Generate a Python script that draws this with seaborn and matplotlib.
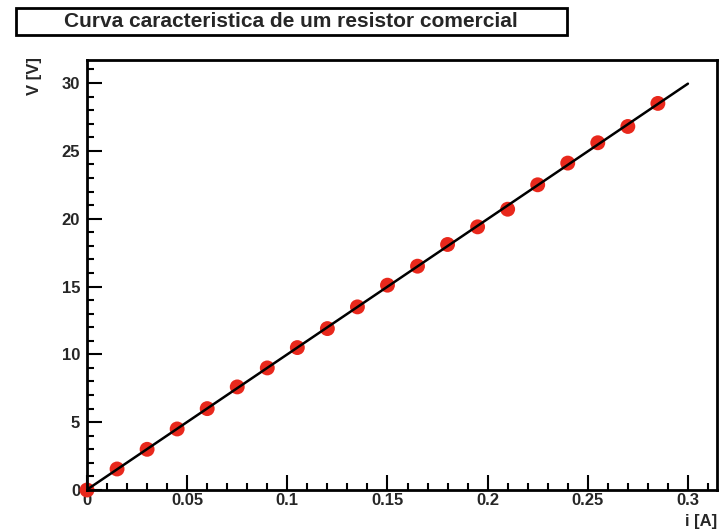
import numpy as np
import pandas as pd
import matplotlib
matplotlib.use("Agg")
import matplotlib.pyplot as plt
from matplotlib.ticker import MultipleLocator
from matplotlib.patches import Rectangle
import seaborn as sns

# Data
corrente = [0.0, 0.015, 0.03, 0.045, 0.06, 0.075, 0.09, 0.105, 0.12, 0.135,
            0.15, 0.165, 0.18, 0.195, 0.21, 0.225, 0.24, 0.255, 0.27, 0.285]
tensao = [0.0, 1.55, 3.0, 4.5, 6.0, 7.6, 9.0, 10.5, 11.9, 13.5,
          15.1, 16.5, 18.1, 19.4, 20.7, 22.5, 24.1, 25.6, 26.8, 28.5]
fit_range = [0.0, 0.3]

titulo = "Curva caracteristica de um resistor comercial"
xlabel = "i [A]"
ylabel = "V [V]"
xticks = [0, 0.05, 0.1, 0.15, 0.2, 0.25, 0.3]
xticklabels = ["0", "0.05", "0.1", "0.15", "0.2", "0.25", "0.3"]

sns.set_style("white")
plt.rcParams["font.family"] = ["Liberation Sans", "DejaVu Sans"]

df = pd.DataFrame({"i": corrente, "V": tensao})

# ajuste linear V = a*i + b
a, b = np.polyfit(corrente, tensao, 1)
fit_i = np.array(fit_range)
fit_df = pd.DataFrame({"i": fit_i, "V": a * fit_i + b})

fig = plt.figure(figsize=(7.27, 5.31), dpi=100)
ax = fig.add_axes([0.1197, 0.0772, 0.8665, 0.8098])

sns.scatterplot(data=df, x="i", y="V", ax=ax, color="#e8281c", s=115,
                edgecolor="none", zorder=2, clip_on=False)
sns.lineplot(data=fit_df, x="i", y="V", ax=ax, color="black", linewidth=1.8,
             zorder=3)

ax.set_xlim(0, 0.3145)
ax.set_ylim(0, 31.7)
ax.xaxis.set_minor_locator(MultipleLocator(0.01))
ax.yaxis.set_major_locator(MultipleLocator(5))
ax.yaxis.set_minor_locator(MultipleLocator(1))
ax.set_xticks(xticks)
ax.set_xticklabels(xticklabels)

ax.tick_params(which="both", direction="in", bottom=True, left=True,
               top=False, right=False, width=1.5, color="black",
               labelsize=12)
ax.tick_params(which="major", length=11)
ax.tick_params(which="minor", length=5)
ax.tick_params(axis="x", which="major", pad=2)
ax.tick_params(axis="y", which="major", pad=5)
for lbl in ax.get_xticklabels() + ax.get_yticklabels():
    lbl.set_fontweight("bold")
for sp in ax.spines.values():
    sp.set_linewidth(2)
    sp.set_color("black")

ax.set_xlabel("")
ax.set_ylabel("")
fig.text(0.986, 0.003, xlabel, ha="right", va="bottom", fontsize=12,
         fontweight="bold")
fig.text(0.047, 0.893, ylabel, ha="center", va="top", rotation=90,
         fontsize=12, fontweight="bold")

# caixa do titulo
fig.patches.append(Rectangle((16 / 727, 1 - 35 / 531), 551 / 727, 27 / 531,
                             transform=fig.transFigure, facecolor="white",
                             edgecolor="black", linewidth=2))
fig.text(291 / 727, 1 - 21.5 / 531, titulo, ha="center", va="center",
         fontsize=15, fontweight="bold")

fig.savefig("out.png", dpi=100)
